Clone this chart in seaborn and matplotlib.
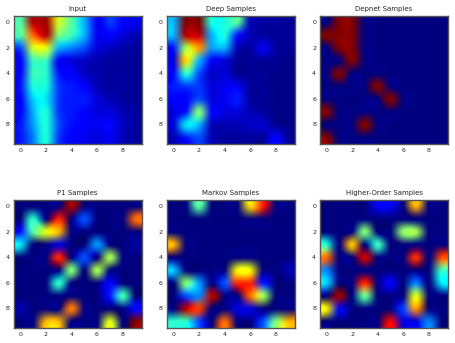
import numpy as np
import pandas as pd
import matplotlib
matplotlib.use("Agg")
import matplotlib.pyplot as plt
import seaborn as sns

titles = ["Input", "Deep Samples", "Depnet Samples",
          "P1 Samples", "Markov Samples", "Higher-Order Samples"]
ticks = [0, 2, 4, 6, 8]

# values, jet scale 0..1
input_img = [
    [.45, .95, .97, .60, .45, .30, .10, .18, .12, .10],
    [.45, .80, .95, .50, .42, .30, .10, .12, .08, .05],
    [.20, .60, .62, .30, .25, .20, .08, .06, .04, .03],
    [.12, .42, .42, .10, .08, .06, .04, .03, .03, .02],
    [.12, .42, .40, .15, .12, .06, .04, .03, .03, .02],
    [.15, .38, .38, .18, .15, .12, .05, .03, .03, .02],
    [.12, .33, .35, .18, .15, .15, .08, .05, .03, .02],
    [.12, .30, .38, .18, .15, .12, .08, .08, .05, .03],
    [.15, .28, .38, .20, .14, .12, .10, .13, .06, .03],
    [.15, .25, .38, .18, .12, .10, .08, .10, .05, .03],
]
deep_img = [
    [.30, 1.0, 1.0, .38, .38, .45, .05, .03, .03, .02],
    [.30, .95, .95, .30, .38, .15, .05, .03, .02, .02],
    [.15, .55, .75, .28, .30, .05, .03, .10, .03, .02],
    [.08, .68, .30, .10, .08, .02, .02, .02, .02, .01],
    [.12, .40, .20, .06, .08, .02, .02, .02, .01, .01],
    [.15, .18, .18, .08, .10, .10, .03, .02, .01, .01],
    [.12, .12, .20, .08, .10, .15, .03, .02, .01, .01],
    [.08, .15, .50, .12, .08, .08, .05, .03, .01, .01],
    [.08, .35, .30, .05, .05, .05, .06, .07, .02, .01],
    [.05, .15, .20, .05, .03, .03, .03, .03, .12, .02],
]
depnet_img = [
    [0, 1, 1, 0, 0, 0, 0, 0, 0, 0],
    [1, 1, 1, 0, 0, 0, 0, 0, 0, 0],
    [0, 1, 1, 0, 0, 0, 0, 0, 0, 0],
    [0, 0, 1, 0, 0, 0, 0, 0, 0, 0],
    [0, 1, 0, 0, 0, 0, 0, 0, 0, 0],
    [0, 0, 0, 0, 1, 0, 0, 0, 0, 0],
    [0, 0, 0, 0, 0, 1, 0, 0, 0, 0],
    [1, 0, 0, 0, 0, 0, 0, 0, 0, 0],
    [0, 0, 0, 1, 0, 0, 0, 0, 0, 0],
    [1, 0, 0, 0, 0, 0, 0, 0, 0, 0],
]
p1_img = [
    [0, 0, 0, 0, .97, 0, 0, 0, 0, 0],
    [0, .40, 0, .87, 0, .20, 0, 0, 0, .80],
    [.15, .45, .62, .72, 0, 0, 0, 0, 0, 0],
    [.35, 0, 0, .08, 0, 0, .27, 0, 0, .03],
    [0, 0, 0, .87, 0, .20, 0, .55, 0, 0],
    [0, 0, 0, 0, .50, 0, .55, 0, 0, 0],
    [0, 0, 0, .40, 0, 0, 0, .13, 0, 0],
    [0, 0, 0, 0, 0, 0, 0, .15, .42, 0],
    [.04, 0, 0, 0, .78, 0, 0, 0, 0, .13],
    [0, 0, .72, .72, 0, 0, 0, .62, 0, 1.0],
]
markov_img = [
    [0, 0, .45, 0, 0, 0, .68, .88, 0, 0],
    [0, 0, 0, 0, 0, 0, 0, 0, 0, 0],
    [0, 0, 0, 0, 0, 0, 0, 0, 0, 0],
    [.72, 0, 0, 0, 0, 0, 0, 0, 0, 0],
    [0, 0, 0, 0, 0, 0, 0, 0, 0, 0],
    [.32, 0, 0, 0, 0, .65, .65, 0, 0, .04],
    [0, .50, .28, 0, .20, .87, .87, .15, 0, 0],
    [0, .20, .25, .95, 0, 0, .80, .55, 0, 0],
    [0, .95, .85, 0, 0, .08, .08, 0, 0, 0],
    [.40, .40, .20, 0, .80, 0, 0, .20, .50, .72],
]
higher_img = [
    [0, 0, 0, 0, .10, .10, 0, .72, 0, 0],
    [0, 0, 0, 0, 0, 0, 0, 0, 0, 0],
    [0, 0, 0, .50, 0, 0, .52, .55, 0, 0],
    [.40, 0, .70, 0, .42, 0, 0, 0, 0, 0],
    [.80, 0, 0, .93, 0, 0, 0, .86, 0, .83],
    [.25, 0, 0, 0, 0, 0, 0, 0, 0, .42],
    [.33, 0, 0, .87, 0, .12, 0, .25, 0, .35],
    [0, .98, 0, .48, 0, 0, 0, .62, 0, 0],
    [.65, .10, 0, 0, 0, 0, .18, .75, 0, 0],
    [0, 0, 0, 0, 0, .90, .08, .08, .25, 0],
]
images = [input_img, deep_img, depnet_img, p1_img, markov_img, higher_img]

sns.set_style("ticks")
plt.rcParams["font.family"] = "DejaVu Sans"

fig, axes = plt.subplots(2, 3, figsize=(4.55, 3.43), dpi=100)
fig.subplots_adjust(left=0.03, right=0.985, top=0.953, bottom=0.044, wspace=0.195, hspace=0.44)

for ax, img, title in zip(axes.flat, images, titles):
    df = pd.DataFrame(img)
    sns.heatmap(df, ax=ax, cmap="jet", vmin=0, vmax=1, cbar=False, square=True)
    # heatmap cells are flat, the original is smoothed in colour space
    ax.imshow(df.values, cmap="jet", vmin=0, vmax=1, interpolation="spline16",
              interpolation_stage="rgba", extent=(0, 10, 10, 0), zorder=3)
    ax.set_xlim(0, 10)
    ax.set_ylim(10, 0)
    ax.set_title(title, fontsize=5, pad=4)
    ax.set_xticks([t + 0.5 for t in ticks], labels=ticks, rotation=0)
    ax.set_yticks([t + 0.5 for t in ticks], labels=ticks, rotation=0)
    ax.set_xlabel("")
    ax.set_ylabel("")
    ax.set_axisbelow(False)
    ax.tick_params(labelsize=4.5, length=2, width=0.5, direction="in", pad=3,
                   top=True, right=True, color="#222222")
    for s in ax.spines.values():
        s.set_visible(True)
        s.set_zorder(5)
        s.set_linewidth(1.0)
        s.set_color("#555555")

fig.savefig("out.png", dpi=100)
